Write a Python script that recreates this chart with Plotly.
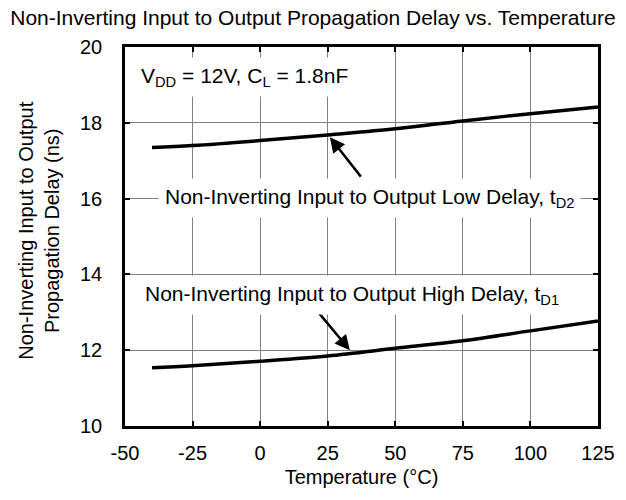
import plotly.graph_objects as go

temps = [-40, -25, 0, 25, 50, 75, 100, 125]
t_d2 = [17.35, 17.40, 17.53, 17.68, 17.84, 18.05, 18.24, 18.42]
t_d1 = [11.54, 11.59, 11.71, 11.85, 12.05, 12.25, 12.51, 12.77]

x_ticks = [-50, -25, 0, 25, 50, 75, 100, 125]
y_ticks = [10, 12, 14, 16, 18, 20]

FONT = "Arial, Liberation Sans, sans-serif"

fig = go.Figure()
for ys in (t_d2, t_d1):
    fig.add_trace(go.Scatter(x=temps, y=ys, mode="lines",
                             line=dict(color="black", width=3.5, shape="spline"),
                             showlegend=False, hoverinfo="skip"))

ann = []
ann.append(dict(x=25.8, y=17.62, ax=37.7, ay=16.54, axref="x", ayref="y", xref="x", yref="y",
                text="", showarrow=True, arrowhead=2, arrowsize=1.2, arrowwidth=2.5, arrowcolor="black"))
ann.append(dict(x=33.2, y=12.0, ax=21.4, ay=13.01, axref="x", ayref="y", xref="x", yref="y",
                text="", showarrow=True, arrowhead=2, arrowsize=1.2, arrowwidth=2.5, arrowcolor="black"))
ann.append(dict(x=40.3, y=16.02, xref="x", yref="y", showarrow=False,
                text="Non-Inverting Input to Output Low Delay, t<sub>D2</sub>",
                bgcolor="white", borderpad=6, font=dict(size=21, color="black", family=FONT)))
ann.append(dict(x=34, y=13.46, xref="x", yref="y", showarrow=False,
                text="Non-Inverting Input to Output High Delay, t<sub>D1</sub>",
                bgcolor="white", borderpad=6, font=dict(size=21, color="black", family=FONT)))
ann.append(dict(x=-46.5, y=19.2, xref="x", yref="y", xanchor="left", showarrow=False,
                text="V<sub>DD</sub> = 12V, C<sub>L</sub> = 1.8nF",
                bgcolor="white", borderpad=6, font=dict(size=21, color="black", family=FONT)))
ann.append(dict(x=-0.182, y=0.515, xref="paper", yref="paper", showarrow=False,
                xanchor="center", yanchor="middle", textangle=-90,
                text="Non-Inverting Input to Output<br>Propagation Delay (ns)",
                font=dict(size=20, color="black", family=FONT)))

fig.update_layout(
    width=626, height=500,
    margin=dict(l=125, r=28, t=47, b=74),
    paper_bgcolor="white", plot_bgcolor="white",
    font=dict(family=FONT, color="black", size=20),
    title=dict(text="Non-Inverting Input to Output Propagation Delay vs. Temperature",
               x=0.5, xanchor="center", y=1 - 18 / 500, yanchor="middle",
               font=dict(size=21, color="black", family=FONT)),
    annotations=ann,
)
fig.update_xaxes(range=[-50, 125], tickvals=x_ticks, ticktext=[str(v) for v in x_ticks],
                 showgrid=True, gridcolor="#808080", gridwidth=1,
                 showline=True, linecolor="black", linewidth=2.5, mirror="allticks",
                 zeroline=False, ticks="inside", ticklen=5, tickwidth=1.5, tickcolor="black",
                 ticklabelstandoff=7, tickfont=dict(size=20),
                 title=dict(text="Temperature (°C)", font=dict(size=20), standoff=8))
fig.update_yaxes(range=[10, 20], tickvals=y_ticks, ticktext=[str(v) for v in y_ticks],
                 showgrid=True, gridcolor="#808080", gridwidth=1,
                 showline=True, linecolor="black", linewidth=2.5, mirror="allticks",
                 zeroline=False, ticks="inside", ticklen=5, tickwidth=1.5, tickcolor="black",
                 ticklabelstandoff=16, tickfont=dict(size=20))

fig.write_html("out.html")
